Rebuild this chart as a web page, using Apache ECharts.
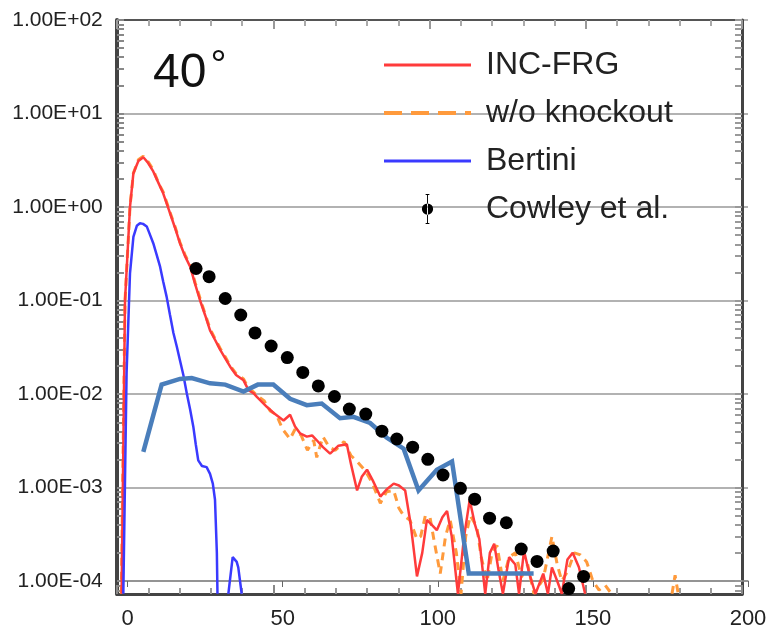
<!DOCTYPE html>
<html><head><meta charset="utf-8">
<script src="https://cdn.jsdelivr.net/npm/echarts@6/dist/echarts.min.js"></script>
<style>html,body{margin:0;padding:0;background:#fff}#c{width:773px;height:633px}</style>
</head><body><div id="c"></div>
<script>
// value used where a curve drops off the bottom of the frame
const FLOOR = 7.3e-5;
const xTickValues = [0, 50, 100, 150, 200];
const yTickValues = [1e-4, 1e-3, 1e-2, 1e-1, 1, 10, 100];
const yTickLabels = ['1.00E-04', '1.00E-03', '1.00E-02', '1.00E-01', '1.00E+00', '1.00E+01', '1.00E+02'];
const legendNames = ['INC-FRG', 'w/o knockout', 'Bertini', 'Cowley et al.'];
const angleLabel = '40';

const incFrg = [
  [-1.9, FLOOR], [-0.8, 0.1], [0.8, 1.0], [1.9, 2.3], [3.5, 3.1], [5.1, 3.4], [6.5, 3.0], [8.3, 2.4],
  [10, 1.8], [11.5, 1.4], [13.7, 0.86], [15.3, 0.6], [16.9, 0.41], [18.5, 0.3], [20.2, 0.23],
  [21.8, 0.15], [23.4, 0.10], [25, 0.07], [26.6, 0.048], [28.2, 0.038], [29.8, 0.03], [31.5, 0.024],
  [33.1, 0.0196], [35, 0.016], [37.4, 0.014], [39, 0.011], [40.6, 0.0102], [41.7, 0.0093],
  [44.9, 0.0073], [47, 0.0063], [50.3, 0.0052], [52.4, 0.006], [54, 0.0045], [55.6, 0.0038],
  [57.8, 0.0035], [59.5, 0.0036], [61, 0.0032], [63, 0.0027], [65.3, 0.0023], [68, 0.0028],
  [70.7, 0.0029], [72, 0.0018], [74, 0.00093], [75.5, 0.0013], [77.2, 0.00155], [79, 0.0012],
  [81.5, 0.0008], [83.5, 0.00095], [85.8, 0.0011], [87.5, 0.00105], [89.5, 0.00093], [91.3, 0.0004],
  [93.3, 0.000112], [95, 0.0002], [96.5, 0.00045], [98, 0.0004], [99.7, 0.00035], [101.5, 0.00048],
  [103, 0.00056], [104.5, 0.0003], [106.5, FLOOR], [108.5, 0.0003], [110.3, 0.00074], [112, 0.0004],
  [113.4, 0.00028], [115.3, FLOOR], [116.8, 0.0002], [118.2, 0.00025], [119.6, 0.00013], [121, FLOOR],
  [123, 0.00018], [125, 0.00015], [126.2, FLOOR], [127.8, 0.00021], [129.5, 0.00012], [131.5, FLOOR],
  [134, 0.00012], [135.5, FLOOR], [136.8, 0.00014], [138.5, 0.0001], [140, FLOOR], [141.8, 0.00017],
  [143.5, 0.0002], [145.5, 0.00014], [147.5, FLOOR]
];

const woKnockout = [
  [-2, FLOOR], [-0.8, 0.1], [0.8, 1.0], [1.9, 2.3], [3.5, 3.2], [5.1, 3.5], [6.5, 3.1], [8.3, 2.5],
  [10, 1.8], [11.5, 1.45], [13.7, 0.88], [15.3, 0.62], [16.9, 0.42], [18.5, 0.31], [20.2, 0.24],
  [21.8, 0.155], [23.4, 0.105], [25, 0.072], [26.6, 0.05], [28.2, 0.039], [29.8, 0.031], [31.5, 0.025],
  [33.1, 0.02], [35, 0.0165], [37.4, 0.0145], [39, 0.0115], [40.6, 0.0105], [42, 0.0095], [44, 0.0085],
  [46, 0.0066], [48, 0.006], [50, 0.0042], [52.4, 0.0033], [54, 0.0042], [56, 0.0036], [58, 0.0025],
  [60, 0.0032], [61, 0.0021], [63, 0.0035], [65, 0.0027], [67, 0.0025], [69.8, 0.0031], [72, 0.0022],
  [74, 0.0019], [76, 0.0016], [77.2, 0.0014], [79, 0.0011], [81.5, 0.00068], [83.5, 0.0009],
  [85.8, 0.00093], [87.5, 0.0006], [89, 0.0005], [91, 0.00045], [93.3, 0.00028], [94.5, 0.0003],
  [96, 0.0005], [97.5, 0.00048], [99, 0.00025], [100.8, 0.00012], [102.5, 0.0003], [104, 0.00045],
  [106, 0.0002], [107.5, FLOOR], [109, 0.0003], [110.5, 0.0005], [112.6, 0.00038], [114, 0.00018],
  [115.9, 0.0001], [117.5, 0.0002], [119.1, 0.00024], [121, 0.0001], [123, 0.00018], [125, 0.0002],
  [127, 0.00011], [129, 0.00015], [131, FLOOR], [134, 0.000105], [136.8, 0.0003], [138.5, 0.00015],
  [140, 0.0001], [142, 0.00013], [144, 0.0002], [146, 0.00019], [148, 0.00016], [150, 0.0001],
  [152, 0.00008], [154, 0.00009], [156, FLOOR], [165, '-'], [175.5, FLOOR], [176.5, 0.000115], [177.5, FLOOR]
];

const bertini = [
  [-1.35, FLOOR], [-0.3, 0.0166], [0.8, 0.195], [1.9, 0.48], [3, 0.63], [4, 0.67], [5, 0.66],
  [6.2, 0.62], [7.3, 0.5], [8.3, 0.41], [9.5, 0.3], [10.5, 0.23], [11.5, 0.16], [12.6, 0.11],
  [13.7, 0.07], [14.8, 0.045], [15.9, 0.032], [16.9, 0.023], [18, 0.016], [19.1, 0.0102],
  [20.2, 0.0068], [21.2, 0.0045], [22, 0.0029], [22.8, 0.00195], [24, 0.0017], [25.5, 0.00165],
  [26.6, 0.0014], [27.5, 0.0011], [28.2, 0.00074], [28.8, 0.0002], [29, FLOOR], [30.8, '-'],
  [32.5, FLOOR], [33.9, 0.00018], [35.2, 0.00016], [35.7, 0.00014], [36.8, FLOOR]
];

const binnedSim = [
  [5.1, 0.0024], [11, 0.0126], [16.9, 0.0145], [20.7, 0.0148], [26.6, 0.013], [31.5, 0.0126],
  [37.4, 0.0106], [42, 0.0126], [47, 0.0126], [52.4, 0.0089], [57.8, 0.0076], [62.6, 0.0079],
  [68.5, 0.0055], [72.8, 0.0057], [78.2, 0.0049], [83.6, 0.0034], [89, 0.0026], [93.8, 0.00093],
  [99.7, 0.00155], [104.6, 0.0019], [110, 0.00012], [130.9, 0.00012]
];

const cowley = [
  [22.1, 0.22], [26.3, 0.18], [31.5, 0.105], [36.5, 0.07], [41.1, 0.045], [46.3, 0.0326],
  [51.5, 0.0245], [56.5, 0.017], [61.5, 0.0122], [66.7, 0.0094], [71.5, 0.0069], [76.8, 0.0061],
  [82, 0.0040], [86.8, 0.0033], [91.9, 0.0027], [96.8, 0.0020], [101.7, 0.00136], [107.3, 0.00098],
  [111.9, 0.00075], [116.7, 0.00047], [122.1, 0.00042], [126.9, 0.00022], [132, 0.000162],
  [137.2, 0.000209], [142.2, 0.000083], [147, 0.000112]
];

// decorative minor log ticks for the frame
const frameLogTicks = [];
for (let k = -5; k <= 2; k++) for (let m = 1; m <= 9; m++) {
  const v = m * Math.pow(10, k);
  if (v >= FLOOR && v <= 100) frameLogTicks.push(v);
}

const FONT = 'Liberation Sans, Arial, sans-serif';
const chart = echarts.init(document.getElementById('c'), null, {renderer: 'canvas'});
const errIcon = 'path://M5.5,0 L6.5,0 L6.5,32 L5.5,32 Z M4,0 L8,0 L8,1 L4,1 Z M4,31 L8,31 L8,32 L4,32 Z M0,16 A6,6 0 1,0 12,16 A6,6 0 1,0 0,16 Z';
const hiddenMarker = {opacity: 0};

chart.setOption({
  animation: false,
  backgroundColor: '#ffffff',
  title: {
    text: '{a|' + angleLabel + '}{b|°}',
    left: 153, top: 46, padding: 0,
    textStyle: {
      fontWeight: 'normal',
      rich: {
        a: {fontSize: 48, fontFamily: FONT, fontWeight: 'normal', color: '#111', lineHeight: 56},
        b: {fontSize: 40, fontFamily: FONT, fontWeight: 'normal', color: '#111', padding: [0, 0, 14, 4]}
      }
    }
  },
  legend: {
    orient: 'vertical', left: 377, top: 44,
    itemWidth: 87, itemHeight: 30, itemGap: 16,
    textStyle: {fontSize: 32, fontFamily: FONT, color: '#222', padding: [0, 0, 0, 10]},
    data: [
      {name: legendNames[0], itemStyle: hiddenMarker, lineStyle: {width: 3}},
      {name: legendNames[1], itemStyle: hiddenMarker, lineStyle: {type: [18, 9], width: 4}},
      {name: legendNames[2], itemStyle: hiddenMarker, lineStyle: {width: 3}},
      {name: legendNames[3], icon: errIcon}
    ]
  },
  grid: [
    {left: 119.75, right: 25, top: 20, bottom: 52},
    {left: 117, right: 31, top: 20, bottom: 39}
  ],
  xAxis: [
    {
      gridIndex: 0, type: 'value', min: -2.5, max: 200,
      axisLine: {show: true, onZero: false, lineStyle: {color: '#8a8a8a', width: 1.5}},
      axisTick: {show: true, customValues: xTickValues, length: 6, lineStyle: {color: '#666'}},
      axisLabel: {customValues: xTickValues, fontSize: 22, fontFamily: FONT, color: '#222', margin: 27},
      splitLine: {show: false}
    },
    {
      gridIndex: 1, type: 'value', min: 0, max: 200, interval: 50, position: 'bottom',
      axisLine: {show: true, onZero: false, lineStyle: {color: '#444', width: 3}},
      axisTick: {show: true, inside: true, length: 9, lineStyle: {color: '#888', width: 2}},
      minorTick: {show: true, splitNumber: 5, length: 6, lineStyle: {color: '#999', width: 2}},
      axisLabel: {show: false}, splitLine: {show: false}
    },
    {
      gridIndex: 1, type: 'value', min: 0, max: 200, interval: 50, position: 'top',
      axisLine: {show: true, onZero: false, lineStyle: {color: '#555', width: 2}},
      axisTick: {show: true, inside: true, length: 9, lineStyle: {color: '#999', width: 2}},
      minorTick: {show: true, splitNumber: 5, length: 6, lineStyle: {color: '#aaa', width: 2}},
      axisLabel: {show: false}, splitLine: {show: false}
    }
  ],
  yAxis: [
    {
      gridIndex: 0, type: 'log', logBase: 10, min: 1e-4, max: 100,
      axisLine: {show: false}, axisTick: {show: false, customValues: yTickValues},
      axisLabel: {
        customValues: yTickValues, fontSize: 21, fontFamily: FONT, color: '#222', margin: 17,
        formatter: v => {
          const i = yTickValues.findIndex(t => Math.abs(Math.log10(t) - Math.log10(v)) < 1e-6);
          return i >= 0 ? yTickLabels[i] : '';
        }
      },
      splitLine: {show: true, lineStyle: {color: '#999', width: 1.5}}
    },
    {
      gridIndex: 1, type: 'log', logBase: 10, min: FLOOR, max: 100, position: 'left',
      axisLine: {show: true, onZero: false, lineStyle: {color: '#444', width: 4}},
      axisTick: {show: true, inside: true, length: 7, customValues: frameLogTicks, lineStyle: {color: '#888', width: 2}},
      axisLabel: {show: false}, splitLine: {show: false}
    },
    {
      gridIndex: 1, type: 'log', logBase: 10, min: FLOOR, max: 100, position: 'right',
      axisLine: {show: true, onZero: false, lineStyle: {color: '#444', width: 3}},
      axisTick: {show: true, inside: true, length: 7, customValues: frameLogTicks, lineStyle: {color: '#999', width: 2}},
      axisLabel: {show: false}, splitLine: {show: false}
    }
  ],
  series: [
    {
      name: legendNames[1], type: 'line', xAxisIndex: 0, yAxisIndex: 0, data: woKnockout,
      symbol: 'none', clip: false, z: 3,
      lineStyle: {color: '#ff9a3c', width: 3, type: [8, 6]}, itemStyle: {color: '#ff9a3c'}
    },
    {
      name: legendNames[0], type: 'line', xAxisIndex: 0, yAxisIndex: 0, data: incFrg,
      symbol: 'none', clip: false, z: 4,
      lineStyle: {color: '#ff3b3b', width: 2.5}, itemStyle: {color: '#ff3b3b'}
    },
    {
      name: legendNames[2], type: 'line', xAxisIndex: 0, yAxisIndex: 0, data: bertini,
      symbol: 'none', clip: false, z: 4,
      lineStyle: {color: '#3a3aff', width: 2.5}, itemStyle: {color: '#3a3aff'}
    },
    {
      name: 'binned', type: 'line', xAxisIndex: 0, yAxisIndex: 0, data: binnedSim,
      symbol: 'none', clip: false, z: 5,
      lineStyle: {color: '#4a7ebb', width: 4.5, join: 'miter'}, itemStyle: {color: '#4a7ebb'}
    },
    {
      name: legendNames[3], type: 'scatter', xAxisIndex: 0, yAxisIndex: 0, data: cowley,
      symbol: 'circle', symbolSize: 13, clip: false, z: 6,
      itemStyle: {color: '#000', opacity: 1}
    }
  ]
});
</script>
</body></html>
